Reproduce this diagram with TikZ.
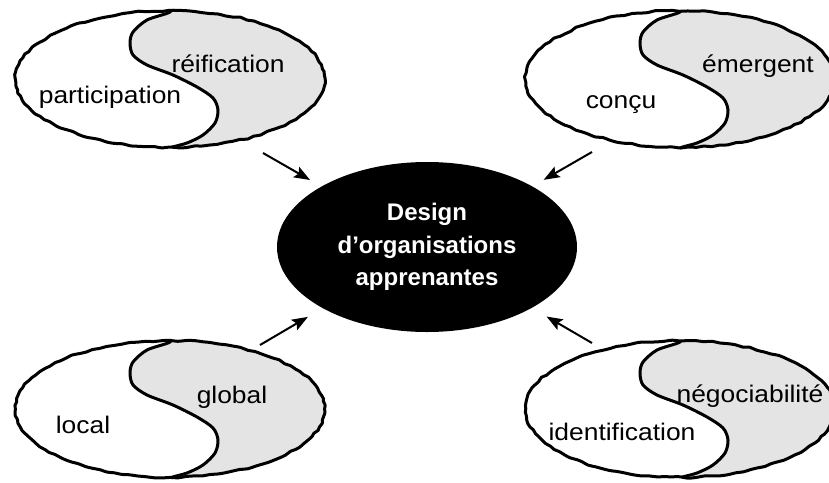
\documentclass[tikz,border=0pt]{standalone}
\usepackage{fontspec}
\setmainfont{Liberation Sans}
\newfontfamily\lblfont[FakeStretch=1.1]{Liberation Sans}
\usetikzlibrary{shapes.geometric,arrows.meta}
\definecolor{yygray}{RGB}{228,228,228}
\tikzset{
  hand/.style={line width=3pt, line join=round},
  lbl/.style={font=\lblfont\fontsize{24}{28}\selectfont, anchor=base, inner sep=0pt},
  arr/.style={line width=2pt, -{Stealth[length=16pt,width=12pt,inset=3pt]}}
}
\newcommand{\yyshape}{%
  \begin{scope}
    \clip (0,0) ellipse [x radius=155pt, y radius=68.5pt];
    \fill[yygray] plot[smooth] coordinates {(2,-75) (0,-67) (-23,-59) (-37,-47) (-40,-36) (-37,-24) (-23,-14) (3,-4) (27,8) (43,19) (48,31) (45,44) (33,56) (17,64) (0,69) (-2,75)} -- (170,75) -- (170,-75) -- cycle;
    \draw[hand] plot[smooth] coordinates {(2,-75) (0,-67) (-23,-59) (-37,-47) (-40,-36) (-37,-24) (-23,-14) (3,-4) (27,8) (43,19) (48,31) (45,44) (33,56) (17,64) (0,69) (-2,75)};
  \end{scope}
  \draw[hand] plot[smooth cycle, domain=0:357, samples=120, variable=\t]
    ({155*cos(\t)+0.8*rand},{68.5*sin(\t)+0.8*rand});%
}
\begin{document}
\pgfmathsetseed{7}
\begin{tikzpicture}[x=1pt,y=-1pt]
  \fill[white] (0,0) rectangle (829,482);
  \useasboundingbox (0,0) rectangle (829,482);

  \begin{scope}[shift={(170,79)}]\yyshape\end{scope}
  \begin{scope}[shift={(680,79)}]\yyshape\end{scope}
  \begin{scope}[shift={(170,409)}]\yyshape\end{scope}
  \begin{scope}[shift={(680,409)}]\yyshape\end{scope}

  \node[lbl] (t1a) at (228,72) {réification};
  \node[lbl] (t1b) at (110,103) {participation};
  \node[lbl] (t2a) at (758,72) {émergent};
  \node[lbl] (t2b) at (621,108) {conçu};
  \node[lbl] (t3a) at (232,403) {global};
  \node[lbl] (t3b) at (83,433) {local};
  \node[lbl] (t4a) at (750,402) {négociabilité};
  \node[lbl] (t4b) at (622,440) {identification};

  \node[ellipse, fill=black, minimum width=300pt, minimum height=170pt, inner sep=0pt,
        text=white, align=center, font=\bfseries\fontsize{24}{32.5}\selectfont]
        (center) at (427,247) {Design\\d’organisations\\apprenantes};

  \coordinate (s1) at (263,153);
  \coordinate (s2) at (592,152);
  \coordinate (s3) at (260,345);
  \coordinate (s4) at (592,343);

  \draw[arr, shorten >=13pt] (s1) -- (center);
  \draw[arr, shorten >=13pt] (s2) -- (center);
  \draw[arr, shorten >=17pt] (s3) -- (center);
  \draw[arr, shorten >=17pt] (s4) -- (center);
\end{tikzpicture}
\end{document}
